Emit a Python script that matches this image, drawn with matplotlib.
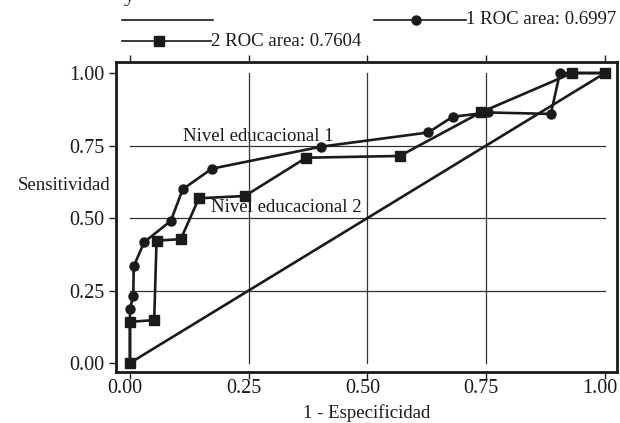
import matplotlib
matplotlib.use('Agg')
import matplotlib.pyplot as plt
from matplotlib.lines import Line2D
from matplotlib.transforms import ScaledTranslation, blended_transform_factory

plt.rcParams['font.family'] = ['Liberation Serif', 'DejaVu Serif']

# Curva ROC 1 (circulos) - Nivel educacional 1
fpr1 = [0.0, 0.0, 0.007, 0.008, 0.030, 0.086, 0.111, 0.172, 0.402, 0.628, 0.679, 0.754, 0.886, 0.905, 1.0]
tpr1 = [0.0, 0.186, 0.232, 0.334, 0.417, 0.490, 0.599, 0.670, 0.746, 0.795, 0.849, 0.864, 0.859, 1.0, 1.0]

# Curva ROC 2 (cuadrados) - Nivel educacional 2
fpr2 = [0.0, 0.0, 0.051, 0.056, 0.107, 0.145, 0.242, 0.371, 0.568, 0.738, 0.931, 1.0]
tpr2 = [0.0, 0.142, 0.148, 0.422, 0.427, 0.568, 0.576, 0.708, 0.714, 0.864, 1.0, 1.0]

ticks = [0.0, 0.25, 0.5, 0.75, 1.0]
tick_labels = ['0.00', '0.25', '0.50', '0.75', '1.00']
grid_vals = [0.25, 0.5, 0.75]
area1 = 0.6997
area2 = 0.7604

col = '#1a1a1a'

fig = plt.figure(figsize=(6.2, 4.23), dpi=100)
ax = fig.add_axes([0.187, 0.1206, 0.808, 0.7328])

# rejilla solo dentro de 0-1
for g in grid_vals:
    ax.plot([0, 1], [g, g], color='#333333', lw=0.9, zorder=1)
    ax.plot([g, g], [0, 1], color='#333333', lw=0.9, zorder=1)

# linea de referencia
ax.plot([0, 1], [0, 1], color=col, lw=1.9, zorder=2)

ax.plot(fpr2, tpr2, color=col, lw=1.9, marker='s', ms=6.5, zorder=3)
ax.plot(fpr1, tpr1, color=col, lw=1.9, marker='o', ms=6.5, zorder=4)

ax.text(0.111, 0.767, 'Nivel educacional 1', fontsize=13.5, color=col, va='baseline')
ax.text(0.170, 0.522, 'Nivel educacional 2', fontsize=13.5, color=col, va='baseline')

ax.set_xlim(-0.0295, 1.025)
ax.set_ylim(-0.031, 1.038)
ax.set_xticks(ticks)
ax.set_xticklabels([])
ax.set_yticks(ticks)
ax.set_yticklabels(tick_labels)
ax.tick_params(axis='x', which='both', top=True, bottom=True, direction='out',
               length=5, width=1, colors=col)
ax.tick_params(axis='y', which='both', left=True, right=False, direction='out',
               length=5, width=1, labelsize=14.5, pad=3, colors=col)
for s in ax.spines.values():
    s.set_linewidth(2)
    s.set_color(col)

# etiquetas del eje x un poco corridas a la izquierda (como en el original)
tr = blended_transform_factory(ax.transData, ax.transAxes) + \
    ScaledTranslation(-0.05, -0.17, fig.dpi_scale_trans)
for v, lab in zip(ticks, tick_labels):
    ax.text(v, 0, lab, transform=tr, fontsize=14.5, color=col, ha='center', va='center')

ax.set_xlabel('1 - Especificidad', fontsize=13.5, color=col)
ax.xaxis.set_label_coords(0.5, -0.104)
fig.text(110 / 620, 1 - 186 / 423, 'Sensitividad', fontsize=13.5, color=col,
         ha='right', va='center')

# titulo cortado arriba
fig.text(129 / 620, 1 - 1 / 423, 'y', fontsize=16, color=col, ha='center', va='baseline')

# leyenda dibujada a mano
def px(x, y):
    return x / 620, 1 - y / 423

x0, y0 = px(122, 20)
x1, _ = px(213, 20)
fig.add_artist(Line2D([x0, x1], [y0, y0], color=col, lw=1.2, transform=fig.transFigure))

x0, y0 = px(122, 41)
x1, _ = px(211, 41)
xm, _ = px(159, 41)
fig.add_artist(Line2D([x0, x1], [y0, y0], color=col, lw=1.2, transform=fig.transFigure))
fig.add_artist(Line2D([xm], [y0], color=col, marker='s', ms=6.5, transform=fig.transFigure))
fig.text(x1, y0, '2 ROC area: %.4f' % area2, fontsize=13.5, color=col, ha='left', va='center')

x0, y0 = px(374, 20)
x1, _ = px(466, 20)
xm, _ = px(416, 20)
fig.add_artist(Line2D([x0, x1], [y0, y0], color=col, lw=1.2, transform=fig.transFigure))
fig.add_artist(Line2D([xm], [y0], color=col, marker='o', ms=6.5, transform=fig.transFigure))
fig.text(x1, y0, '1 ROC area: %.4f' % area1, fontsize=13.5, color=col, ha='left', va='center')

fig.savefig('out.png', dpi=100)
